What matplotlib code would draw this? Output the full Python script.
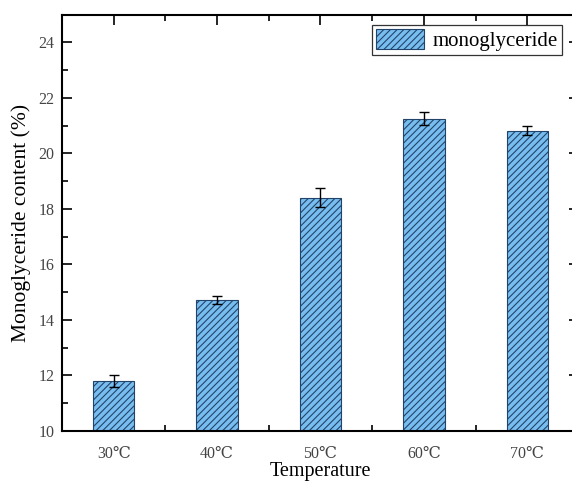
import numpy as np
import matplotlib.pyplot as plt
from matplotlib.ticker import MultipleLocator

plt.rcParams['font.family'] = ['Liberation Serif', 'DejaVu Serif', 'Noto Sans CJK SC']
plt.rcParams['hatch.linewidth'] = 0.8
plt.rcParams['hatch.color'] = '#22436a'

# monoglyceride content at each reaction temperature
temps = ['30℃', '40℃', '50℃', '60℃', '70℃']
content = [11.80, 14.72, 18.40, 21.26, 20.82]
content_err = [0.21, 0.13, 0.34, 0.25, 0.17]

fig = plt.figure(figsize=(5.72, 4.84), dpi=100)
ax = fig.add_axes([0.1084, 0.1095, 0.9038, 0.8601])
ax.set_axisbelow(True)

x = np.arange(len(temps))
ax.bar(x, content, width=0.4, color='#78bdf0', edgecolor='#22436a',
       linewidth=0.8, hatch='/////', label='monoglyceride', zorder=1)
ax.errorbar(x, content, yerr=content_err, fmt='none', ecolor='black',
            elinewidth=1.0, capsize=3.3, capthick=1.0, zorder=3)

ax.set_xlim(-0.5, 4.5)
ax.set_ylim(10, 25)
ax.set_xticks(x)
ax.set_xticklabels(temps)
ax.xaxis.set_minor_locator(plt.FixedLocator(x[:-1] + 0.5))
ax.yaxis.set_major_locator(MultipleLocator(2))
ax.yaxis.set_minor_locator(MultipleLocator(1))

ax.tick_params(which='both', direction='in', top=True, right=True,
               width=1.2, labelsize=11.5, labelcolor='#444444')
ax.tick_params(which='major', length=7)
ax.tick_params(which='minor', length=4)
ax.tick_params(axis='y', pad=5.5)
ax.tick_params(axis='x', pad=10.5)

for sp in ax.spines.values():
    sp.set_linewidth(1.5)

ax.set_xlabel('Temperature', fontsize=14.5, labelpad=0.5)
ax.set_ylabel('Monoglyceride content (%)', fontsize=15.5, labelpad=5)

leg = ax.legend(loc='upper right', bbox_to_anchor=(0.967, 0.976), fontsize=15,
                frameon=True, fancybox=False, edgecolor='black',
                handlelength=2.3, handleheight=1.1, borderpad=0.2,
                handletextpad=0.4, borderaxespad=0)
leg.get_frame().set_linewidth(0.9)

fig.savefig('out.png', dpi=100)
